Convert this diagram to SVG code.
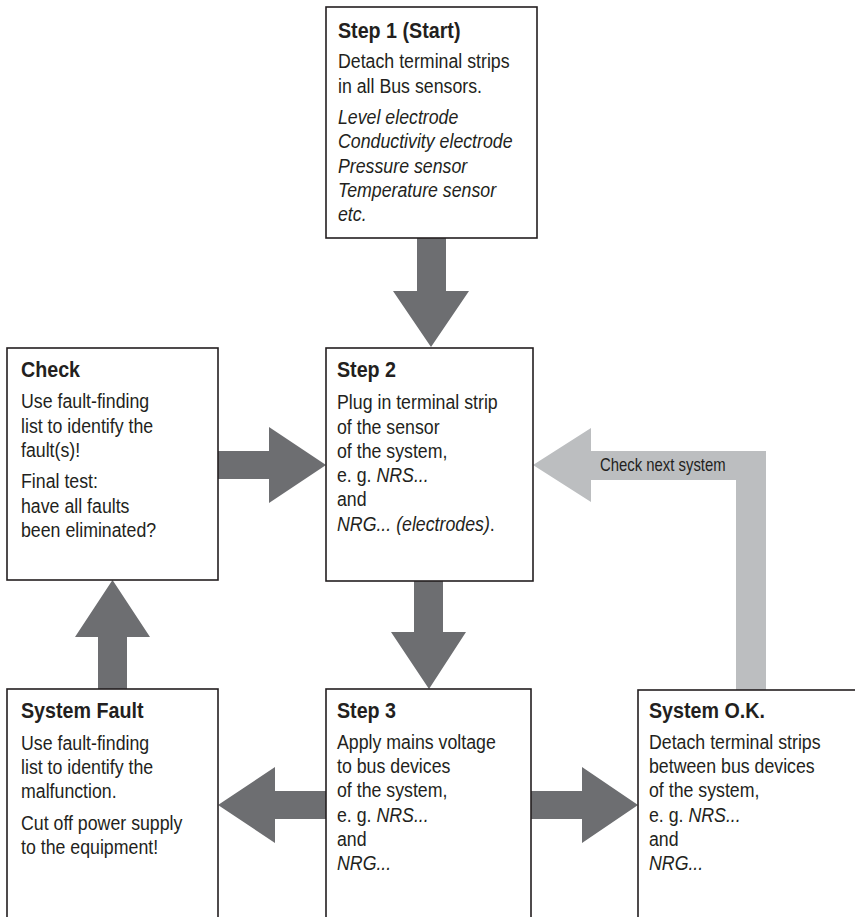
<svg xmlns="http://www.w3.org/2000/svg" width="855" height="917" viewBox="0 0 855 917">
<style>
.box{fill:#fff;stroke:#231f20;stroke-width:1.6}
.dk{fill:#6d6e71}
.lt{fill:#bcbec0}
text{font-family:"Liberation Sans",Arial,sans-serif;fill:#231f20}
.h{font-size:22.5px;font-weight:bold}
.b{font-size:21px}
.i{font-style:italic}
.lbl{font-size:17.5px}
</style>
<rect width="855" height="917" fill="#fff"/>
<g id="connectors">
<polygon class="dk" points="417,238 446,238 446,291 469,291 431,347 393,291 417,291"/>
<polygon class="dk" points="218,451 269,451 269,427 326,465 269,503 269,479 218,479"/>
<polygon class="dk" points="414,581 443,581 443,632 466,632 429,689 391,632 414,632"/>
<polygon class="dk" points="531,791 582,791 582,767 638,805 582,843 582,819 531,819"/>
<polygon class="dk" points="326,791 275,791 275,767 218,805 275,843 275,819 326,819"/>
<polygon class="dk" points="98,689 98,637 75,637 112.5,580 150,637 127,637 127,689"/>
<polygon class="lt" points="766,690 736,690 736,480 591,480 591,502 533,465 591,428 591,451 766,451"/>
<text class="lbl" transform="translate(600,471) scale(0.85,1)">Check next system</text>
</g>
<g id="step1">
<rect class="box" x="326" y="7" width="211" height="231"/>
<g transform="translate(338,0) scale(0.875,1)">
<text class="h" x="0" y="38">Step 1 (Start)</text>
</g>
<g transform="translate(338,0) scale(0.845,1)">
<text class="b" x="0" y="68.3">Detach terminal strips</text>
<text class="b" x="0" y="92.6">in all Bus sensors.</text>
<text class="b i" x="0" y="124">Level electrode</text>
<text class="b i" x="0" y="148.3">Conductivity electrode</text>
<text class="b i" x="0" y="172.6">Pressure sensor</text>
<text class="b i" x="0" y="196.8">Temperature sensor</text>
<text class="b i" x="0" y="221">etc.</text>
</g>
</g>
<g id="check">
<rect class="box" x="7" y="348" width="211" height="232"/>
<g transform="translate(21,0) scale(0.875,1)">
<text class="h" x="0" y="377.5">Check</text>
</g>
<g transform="translate(21,0) scale(0.845,1)">
<text class="b" x="0" y="408.5">Use fault-finding</text>
<text class="b" x="0" y="432.8">list to identify the</text>
<text class="b" x="0" y="457">fault(s)!</text>
<text class="b" x="0" y="488.5">Final test:</text>
<text class="b" x="0" y="512.8">have all faults</text>
<text class="b" x="0" y="537">been eliminated?</text>
</g>
</g>
<g id="step2">
<rect class="box" x="326" y="348" width="207" height="233"/>
<g transform="translate(337,0) scale(0.875,1)">
<text class="h" x="0" y="377.5">Step 2</text>
</g>
<g transform="translate(337,0) scale(0.845,1)">
<text class="b" x="0" y="409.5">Plug in terminal strip</text>
<text class="b" x="0" y="433.8">of the sensor</text>
<text class="b" x="0" y="458">of the system,</text>
<text class="b" x="0" y="482.3">e. g. <tspan class="i">NRS...</tspan></text>
<text class="b" x="0" y="506.5">and</text>
<text class="b" x="0" y="530.8"><tspan class="i">NRG... (electrodes)</tspan>.</text>
</g>
</g>
<g id="step3">
<rect class="box" x="326" y="689" width="205" height="260"/>
<g transform="translate(337,0) scale(0.875,1)">
<text class="h" x="0" y="718.5">Step 3</text>
</g>
<g transform="translate(337,0) scale(0.845,1)">
<text class="b" x="0" y="749">Apply mains voltage</text>
<text class="b" x="0" y="773.3">to bus devices</text>
<text class="b" x="0" y="797.5">of the system,</text>
<text class="b" x="0" y="821.8">e. g. <tspan class="i">NRS...</tspan></text>
<text class="b" x="0" y="846">and</text>
<text class="b i" x="0" y="870.3">NRG...</text>
</g>
</g>
<g id="systemFault">
<rect class="box" x="7" y="689" width="211" height="260"/>
<g transform="translate(21,0) scale(0.875,1)">
<text class="h" x="0" y="718.5">System Fault</text>
</g>
<g transform="translate(21,0) scale(0.845,1)">
<text class="b" x="0" y="750">Use fault-finding</text>
<text class="b" x="0" y="774.3">list to identify the</text>
<text class="b" x="0" y="798.5">malfunction.</text>
<text class="b" x="0" y="830">Cut off power supply</text>
<text class="b" x="0" y="854.3">to the equipment!</text>
</g>
</g>
<g id="systemOK">
<rect class="box" x="638" y="690" width="240" height="260"/>
<g transform="translate(649,0) scale(0.875,1)">
<text class="h" x="0" y="718.5">System O.K.</text>
</g>
<g transform="translate(649,0) scale(0.845,1)">
<text class="b" x="0" y="749">Detach terminal strips</text>
<text class="b" x="0" y="773.3">between bus devices</text>
<text class="b" x="0" y="797.5">of the system,</text>
<text class="b" x="0" y="821.8">e. g. <tspan class="i">NRS...</tspan></text>
<text class="b" x="0" y="846">and</text>
<text class="b i" x="0" y="870.3">NRG...</text>
</g>
</g>
</svg>
